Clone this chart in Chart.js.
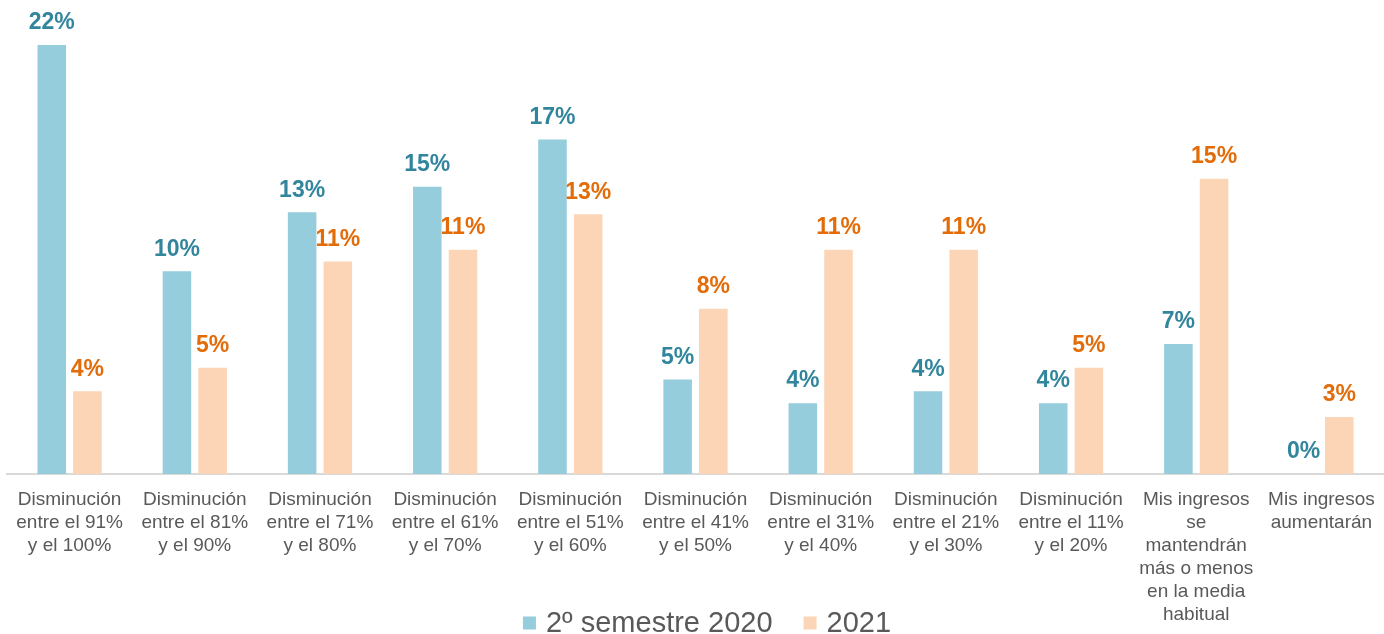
<!DOCTYPE html>
<html>
<head>
<meta charset="utf-8">
<script src="https://cdn.jsdelivr.net/npm/chart.js@4/dist/chart.umd.min.js"></script>
<style>
  html, body { margin: 0; padding: 0; background: #fff; }
  #wrap { width: 1384px; height: 634px; position: relative; }
</style>
</head>
<body>
<div id="wrap"><canvas id="graph"></canvas></div>
<script>
const categories = [
  ['Disminución', 'entre el 91%', 'y el 100%'],
  ['Disminución', 'entre el 81%', 'y el 90%'],
  ['Disminución', 'entre el 71%', 'y el 80%'],
  ['Disminución', 'entre el 61%', 'y el 70%'],
  ['Disminución', 'entre el 51%', 'y el 60%'],
  ['Disminución', 'entre el 41%', 'y el 50%'],
  ['Disminución', 'entre el 31%', 'y el 40%'],
  ['Disminución', 'entre el 21%', 'y el 30%'],
  ['Disminución', 'entre el 11%', 'y el 20%'],
  ['Mis ingresos', 'se', 'mantendrán', 'más o menos', 'en la media', 'habitual'],
  ['Mis ingresos', 'aumentarán'],
]

const semestre2020 = [21.8, 10.3, 13.3, 14.6, 17.0, 4.8, 3.6, 4.2, 3.6, 6.6, 0]
const anio2021 = [4.2, 5.4, 10.8, 11.4, 13.2, 8.4, 11.4, 11.4, 5.4, 15.0, 2.9]

const seriesNames = ['2º semestre 2020', '2021']

const SERIES = Object.freeze({
  S2020: { bar: '#95CDDC', text: '#31859C' },
  S2021: { bar: '#FBD5B5', text: '#E36C09' },
})

const FONT = '"Liberation Sans", Arial, sans-serif'

// value labels above each bar
const barLabels = {
  id: 'barLabels',
  afterDatasetsDraw(chart) {
    const c = chart.ctx
    c.save()
    c.font = 'bold 23px ' + FONT
    c.textAlign = 'center'
    c.textBaseline = 'middle'
    chart.data.datasets.forEach((ds, i) => {
      const meta = chart.getDatasetMeta(i)
      meta.data.forEach((bar, j) => {
        c.fillStyle = ds.labelColour
        c.fillText(Math.round(ds.data[j]) + '%', bar.x, bar.y - 22)
      })
    })
    c.restore()
  },
}

// legend drawn at the bottom, beside the long last labels
const bottomLegend = {
  id: 'bottomLegend',
  afterDraw(chart) {
    const c = chart.ctx
    c.save()
    c.font = '29px ' + FONT
    c.textBaseline = 'middle'
    const box = 13, gapBox = 10, gapItem = 31
    const widths = chart.data.datasets.map(ds => c.measureText(ds.label).width)
    let total = 0
    widths.forEach((w, i) => { total += box + gapBox + w + (i ? gapItem : 0) })
    let x = 707 - total / 2
    const y = 623
    chart.data.datasets.forEach((ds, i) => {
      c.fillStyle = ds.backgroundColor
      c.fillRect(x, y - box / 2, box, box)
      x += box + gapBox
      c.fillStyle = '#595959'
      c.fillText(ds.label, x, y + 1)
      x += widths[i] + gapItem
    })
    c.restore()
  },
}

const ctx = document.getElementById('graph').getContext('2d')

let graph = new Chart(ctx, {
  type: 'bar',
  data: {
    labels: categories,
    datasets: [
      {
        label: seriesNames[0],
        data: semestre2020,
        backgroundColor: SERIES.S2020.bar,
        labelColour: SERIES.S2020.text,
      },
      {
        label: seriesNames[1],
        data: anio2021,
        backgroundColor: SERIES.S2021.bar,
        labelColour: SERIES.S2021.text,
      },
    ],
  },
  options: {
    responsive: true,
    maintainAspectRatio: false,
    animation: false,
    categoryPercentage: 0.57,
    barPercentage: 0.8,
    layout: { padding: { top: 41, left: 7, right: -4, bottom: 2 } },
    plugins: {
      legend: { display: false },
      tooltip: { enabled: false },
    },
    scales: {
      x: {
        grid: { display: false },
        border: { display: true, color: '#D9D9D9', width: 2 },
        ticks: {
          color: '#595959',
          font: { family: FONT, size: 19, lineHeight: 23 / 19 },
          padding: 6,
          maxRotation: 0,
          autoSkip: false,
        },
      },
      y: {
        display: false,
        min: 0,
        max: 22,
      },
    },
  },
  plugins: [barLabels, bottomLegend],
})
</script>
</body>
</html>
